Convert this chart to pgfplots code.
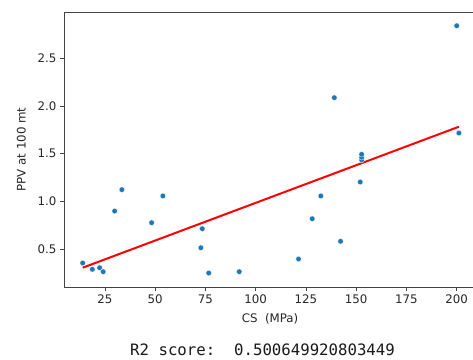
\documentclass[border=0pt]{standalone}
\usepackage{pgfplots}
\pgfplotsset{compat=1.18}
\usepackage{fontspec}
\setmainfont{DejaVu Sans}
\newfontfamily\monofont{DejaVu Sans Mono}
\definecolor{mplblue}{HTML}{1F77B4}
\definecolor{spine}{HTML}{444444}
\begin{document}
\begin{tikzpicture}
\useasboundingbox (0,0) rectangle (473bp,360bp);
\begin{axis}[
  at={(64bp,73bp)}, anchor=south west,
  scale only axis, width=412bp, height=275bp,
  xmin=4.6, xmax=209.6, ymin=0.105, ymax=2.984,
  xtick={25,50,75,100,125,150,175,200},
  ytick={0.5,1.0,1.5,2.0,2.5},
  yticklabel style={/pgf/number format/fixed,/pgf/number format/fixed zerofill,/pgf/number format/precision=1},
  /pgf/number format/assume math mode=true,
  tick align=outside, tick pos=left,
  major tick length=4bp,
  every tick/.style={spine, line width=0.8bp},
  axis line style={spine, line width=0.9bp},
  axis lines*=box,
  ticklabel style={font=\fontsize{11.8bp}{14bp}\selectfont, text=black!85},
  xlabel={CS\ \ (MPa)}, ylabel={PPV at 100 mt},
  label style={font=\fontsize{11.8bp}{14bp}\selectfont, text=black!85},
  xlabel style={yshift=-3bp},
  ylabel style={yshift=5bp},
  clip=false,
]
\addplot[only marks, mark=*, mark size=2.8bp, mplblue, mark options={draw=white, line width=0.3bp, fill=mplblue}] coordinates {
(13.9,0.356) (18.7,0.29) (22.3,0.307) (24.1,0.265) (29.8,0.90) (33.4,1.124)
(48.2,0.778) (53.8,1.058) (72.7,0.516) (73.4,0.715) (76.6,0.251) (91.8,0.265)
(121.3,0.398) (128.1,0.82) (132.4,1.058) (142.2,0.583) (152.0,1.204)
(152.7,1.435) (152.7,1.463) (152.7,1.494) (139.1,2.087) (200.0,2.84) (201.1,1.717)
};
\addplot[red, line width=2bp] coordinates {(13.9,0.307) (201.1,1.783)};
\end{axis}
\node[anchor=base west, inner sep=0pt, font=\monofont\fontsize{15.7bp}{18bp}\selectfont, text=black!90] at (130bp,4.5bp) {R2 score:\ \ 0.500649920803449};
\end{tikzpicture}
\end{document}
